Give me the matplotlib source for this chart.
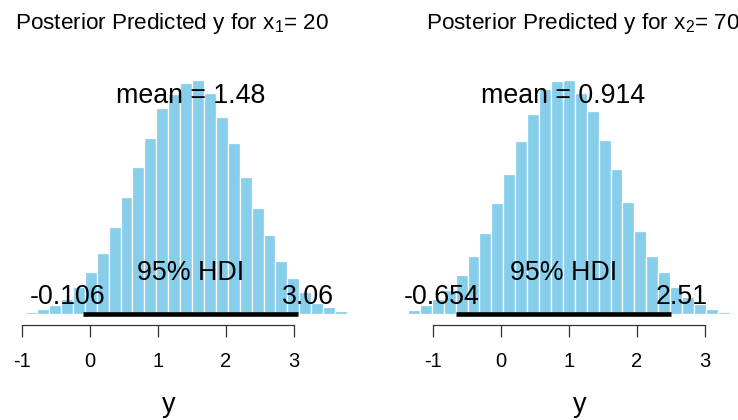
import matplotlib
matplotlib.use("Agg")
import matplotlib.pyplot as plt
from matplotlib.transforms import blended_transform_factory

plt.rcParams['font.family'] = ['Liberation Sans', 'DejaVu Sans']
plt.rcParams['mathtext.fontset'] = 'custom'
plt.rcParams['mathtext.rm'] = 'Liberation Sans'
plt.rcParams['mathtext.it'] = 'Liberation Sans'
plt.rcParams['axes.unicode_minus'] = False

# bin width and first bin edge for each histogram
bin_width = 0.1755
start1 = -1.130
start2 = -1.543

# histogram densities
dens1 = [0.002, 0.004, 0.011, 0.021, 0.034, 0.059, 0.091, 0.133, 0.189, 0.253,
         0.320, 0.381, 0.446, 0.477, 0.501, 0.508, 0.480, 0.427, 0.372, 0.297,
         0.230, 0.172, 0.116, 0.078, 0.048, 0.024, 0.016, 0.008, 0.003]
dens2 = [0.003, 0.009, 0.020, 0.033, 0.052, 0.085, 0.127, 0.175, 0.241, 0.303,
         0.376, 0.433, 0.489, 0.505, 0.508, 0.480, 0.440, 0.377, 0.315, 0.244,
         0.180, 0.127, 0.091, 0.058, 0.037, 0.022, 0.011, 0.004]

means = [1.48, 0.914]
hdi1 = [-0.106, 3.06]
hdi2 = [-0.654, 2.51]
titles = [r'Posterior Predicted y for x$_1$= 20', r'Posterior Predicted y for x$_2$= 70']
ticks = [-1, 0, 1, 2, 3]


def panel(ax, start, dens, mean, hdi, title, xlim):
    edges = [start + i * bin_width for i in range(len(dens))]
    ax.bar(edges, dens, width=bin_width, align='edge', color='#87CEEB',
           edgecolor='white', linewidth=0.9)
    ax.set_xlim(xlim)
    ax.set_ylim(-0.2292, 0.6808)

    # HDI bar
    ax.plot(hdi, [0, 0], color='black', linewidth=3.3, solid_capstyle='butt')
    ax.text(mean, 0.9 * max(dens), 'mean = %s' % mean, ha='center', va='baseline',
            fontsize=19.3)
    ax.text(sum(hdi) / 2, 0.074, '95% HDI', ha='center', va='baseline', fontsize=19.3)
    lo = ax.annotate(str(hdi[0]), xy=(hdi[0], 0.0215), xytext=(0, 0),
                     textcoords='offset pixels', ha='left', va='baseline', fontsize=19.3)
    hi = ax.annotate(str(hdi[1]), xy=(hdi[1], 0.0215), xytext=(0, 0),
                     textcoords='offset pixels', ha='left', va='baseline', fontsize=19.3)

    for s in ['top', 'right', 'left']:
        ax.spines[s].set_visible(False)
    ax.spines['bottom'].set_position(('data', -0.0234))
    ax.spines['bottom'].set_bounds(-1, 3)
    ax.spines['bottom'].set_color('#333333')
    ax.spines['bottom'].set_linewidth(0.9)
    ax.set_yticks([])
    ax.set_xticks(ticks)
    ax.set_xticklabels([str(t) for t in ticks])
    ax.tick_params(axis='x', direction='out', length=8.6, width=0.9, color='#333333',
                   pad=11, labelsize=14.5)
    ax.patch.set_visible(False)

    tr = blended_transform_factory(ax.transData, ax.transAxes)
    ax.text(1.215, 0.930, title, transform=tr, ha='center', va='baseline', fontsize=16.2)
    ax.text(1.16, 0.019, 'y', transform=tr, ha='center', va='baseline', fontsize=19.5)
    return lo, hi


fig = plt.figure(figsize=(7.38, 4.2), dpi=100)
ax1 = fig.add_axes([0, 0, 0.5, 1])
ax2 = fig.add_axes([0.5, 0, 0.5, 1])

lbl1 = panel(ax1, start1, dens1, means[0], hdi1, titles[0], (-90.0 / 67.9, 279.0 / 67.9))
lbl2 = panel(ax2, start2, dens2, means[1], hdi2, titles[1], (-131.8 / 67.9, 237.2 / 67.9))

# place HDI end labels like R's adj: 70% of the low label left of its point, 30% of the high one
fig.canvas.draw()
for lo, hi in [lbl1, lbl2]:
    w = lo.get_window_extent().width
    lo.xyann = (-0.7 * w, 0)
    w = hi.get_window_extent().width
    hi.xyann = (-0.3 * w, 0)

fig.savefig('out.png', dpi=100)
